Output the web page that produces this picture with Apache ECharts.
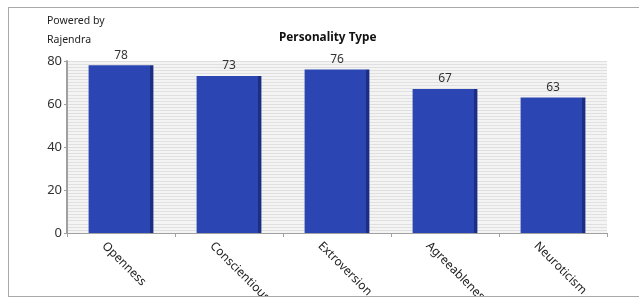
<!DOCTYPE html>
<html>
<head>
<meta charset="utf-8">
<style>
  html, body { margin: 0; background: #fff; overflow: hidden; }
  #main {
    position: absolute;
    left: 8px;
    top: 7px;
    width: 632px;
    height: 288px;
    border-left: 1px solid #a8a8a8;
    border-top: 1px solid #a8a8a8;
    border-bottom: 1px solid #a8a8a8;
    overflow: hidden;
  }
</style>
<script src="https://cdn.jsdelivr.net/npm/echarts@6/dist/echarts.min.js"></script>
</head>
<body>
<div id="main"></div>
<script>
  // data
  const categories = ['Openness', 'Conscientiousness', 'Extroversion', 'Agreeableness', 'Neuroticism']
  const scores = [78, 73, 76, 67, 63]
  const yTicks = [0, 20, 40, 60, 80]

  const barFill = new echarts.graphic.LinearGradient(0, 0, 1, 0, [
    { offset: 0, color: '#2b45b2' },
    { offset: 0.95, color: '#2b45b2' },
    { offset: 0.95, color: '#1c2e84' },
    { offset: 1, color: '#1c2e84' }
  ])

  const myChart = echarts.init(document.getElementById('main'))
  myChart.setOption({
    animation: false,
    textStyle: { fontFamily: 'Noto Sans' },
    title: {
      text: 'Personality Type',
      left: 265,
      top: 19,
      textStyle: { fontSize: 11.8, fontWeight: 'bold', color: '#111', fontFamily: 'Noto Sans' }
    },
    graphic: [
      { type: 'text', left: 38, top: 8, style: { text: 'Powered by', fontSize: 10.5, fill: '#222', fontFamily: 'Noto Sans' } },
      { type: 'text', left: 38, top: 27, style: { text: 'Rajendra', fontSize: 10.5, fill: '#222', fontFamily: 'Noto Sans' } }
    ],
    grid: {
      left: 58,
      top: 53,
      width: 540,
      height: 172,
      outerBoundsMode: 'none',
      containLabel: false,
      show: true,
      backgroundColor: '#f4f4f4',
      borderWidth: 0
    },
    xAxis: {
      type: 'category',
      data: categories,
      axisLine: { lineStyle: { color: '#a0a0a0', width: 1 } },
      axisTick: { show: true, length: 4, lineStyle: { color: '#a0a0a0' } },
      axisLabel: {
        rotate: -45,
        interval: 0,
        margin: -6,
        verticalAlign: 'top',
        lineHeight: 48,
        fontSize: 12,
        color: '#222'
      }
    },
    yAxis: {
      type: 'value',
      min: 0,
      max: yTicks[yTicks.length - 1],
      interval: 20,
      axisLine: { show: true, lineStyle: { color: '#a0a0a0', width: 2 } },
      axisTick: { show: true, length: 3, lineStyle: { color: '#a0a0a0' } },
      axisLabel: { fontSize: 13, color: '#333', margin: 5 },
      splitLine: { show: true, lineStyle: { color: '#dedede' } },
      minorTick: { show: false, splitNumber: 14 },
      minorSplitLine: { show: true, lineStyle: { color: '#e0e0e0', width: 1 } }
    },
    series: [{
      type: 'bar',
      data: scores,
      barWidth: '60%',
      itemStyle: { color: barFill },
      label: {
        show: true,
        position: 'top',
        distance: 4,
        fontSize: 12,
        color: '#333'
      }
    }]
  })
</script>
</body>
</html>
